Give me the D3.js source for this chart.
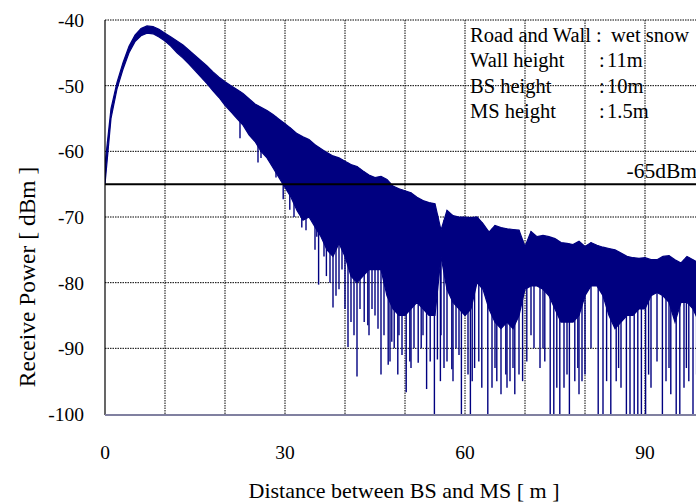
<!DOCTYPE html>
<html><head><meta charset="utf-8">
<script src="https://cdn.jsdelivr.net/npm/d3@7"></script>
<style>html,body{margin:0;padding:0;background:#fff;overflow:hidden}text{font-family:"Liberation Serif","Times New Roman",serif;fill:#000}</style>
</head><body><svg id="c" width="696" height="503"></svg>
<script>
// Distance grid [m]
const distance = [0,1,2,3,4,5,6,7,8,9,10,11,12,13,14,15,16,17,18,19,20,21,22,23,24,25,26,27,28,29,30,31,32,33,34,35,36,37,38,39,40,41,42,43,44,45,46,47,48,49,50,51,52,53,54,55,56,57,58,59,60,61,62,63,64,65,66,67,68,69,70,71,72,73,74,75,76,77,78,79,80,81,82,83,84,85,86,87,88,89,90,91,92,93,94,95,96,97,98,99,100];
// Upper envelope of received power [dBm]
const upperPower = [-62,-53.5,-49.5,-46.5,-44,-42.3,-41.3,-40.9,-41,-41.4,
-42,-42.6,-43.2,-43.8,-44.6,-45.4,-46.2,-47,-47.9,-48.7,
-49.4,-50,-50.6,-51.2,-52,-52.8,-53.3,-53.8,-54.4,-55.1,
-55.8,-56.5,-57.3,-57.8,-58.2,-59,-59.6,-60.2,-60.7,-61,
-61.5,-62,-62.3,-63,-63.6,-64,-63.8,-64.3,-65.3,-65.7,
-66,-66.3,-67,-67.5,-67.8,-68,-72,-69,-69.8,-70,
-70,-70.1,-70,-71,-72.3,-71.3,-71.6,-71.8,-71.9,-72,
-74.5,-72.2,-73,-72.8,-73,-73.3,-73.9,-74,-74.2,-73.7,
-74.5,-73.9,-74.3,-74.6,-74.8,-75,-75.5,-76,-76.2,-76.3,
-76.2,-76.5,-76.5,-76,-75.9,-76.5,-77,-76,-76.5,-77,-77];
// Lower edge of the dense fading band [dBm]
const lowerPower = [-65,-55,-50.5,-47.5,-45,-43.3,-42.4,-42,-42.1,-42.6,
-43.2,-44,-45,-45.8,-46.7,-47.7,-48.7,-49.7,-50.8,-51.8,
-53,-54,-55,-56,-57.5,-58.5,-60,-61,-62.5,-64,
-65.5,-67,-69,-70.5,-70,-71.5,-73,-75,-76,-74,
-76,-79,-80,-79,-78,-78,-78,-82,-84,-85,
-85,-84,-83,-84,-85,-85,-76,-81,-83,-84,
-85,-84,-80,-81,-84,-86,-87,-86,-87,-85,
-81,-80.5,-80.5,-81,-82,-84,-86,-86,-86,-85,
-82,-80.5,-80.5,-82,-85,-87,-86,-85,-85,-84,
-84,-82,-81.5,-82,-83,-86,-83,-83,-84,-86,-86];
// Deep fades: [distance m, minimum dBm]
const fades = [[22.5,-58],[25.5,-61.7],[26,-61],[28.5,-64],[29.7,-67.3],[30.8,-68.9],[31.5,-70],[32.8,-71.6],[33.5,-72],[35,-75],[35.3,-73],[35.6,-80.3],[36.5,-76],[36.9,-79],[37.5,-80],[38,-83.8],[38.5,-82],[39,-81],[39.5,-78],[40,-84],[40.5,-89.8],[41,-86],[41.5,-88],[42,-94.3],[42.5,-84],[43.2,-86],[43.8,-86.5],[44,-88],[44.5,-84],[45,-85],[45.5,-87],[46,-94],[46.5,-88],[47.2,-92.5],[47.5,-92],[47.8,-89],[48.2,-90],[48.8,-94],[49,-88],[49.5,-91],[50.2,-96.7],[50.8,-92],[51,-93],[51.5,-90],[52.2,-92.2],[52.7,-90],[53,-88],[53.6,-96.2],[54.2,-92],[54.9,-100],[55.4,-91.7],[55.9,-95],[56,-88],[56.5,-93],[57,-92],[57.8,-93.2],[58,-95],[58.5,-90],[59,-91],[59.4,-100],[60.5,-94],[60.9,-100],[61.2,-95],[61.6,-93],[62.3,-92],[62.8,-96],[63.8,-100],[64.5,-96],[65,-93],[65.3,-95],[66,-97],[66.8,-94],[67,-96],[67.5,-95],[68,-93],[68.3,-97],[69,-94],[69.6,-95],[70.3,-92],[71,-88],[71.5,-90],[72.5,-93],[73,-90],[73.3,-92],[74.2,-100],[74.8,-100],[75.3,-96],[75.8,-100],[76.5,-96],[77,-94],[77.4,-100],[78.3,-95],[78.8,-93],[79,-97],[79.5,-95],[80,-94],[81,-90],[82.2,-100],[83,-100],[83.6,-95],[84.3,-100],[85.2,-95],[85.6,-93],[86,-96],[86.9,-100],[87.5,-100],[88.2,-100],[88.8,-100],[89.4,-100],[90.1,-100],[90.6,-94],[91,-96],[92,-92],[92.9,-100],[93.5,-95],[94,-93],[94.3,-97],[95.2,-100],[95.8,-100],[96.5,-96],[96.9,-93],[97.3,-95],[98,-100],[98.6,-94],[99,-97],[99.5,-95]];
const xTickLabels = [0,30,60,90];
const yTickLabels = [-40,-50,-60,-70,-80,-90,-100];
const xGrid = [10,20,30,40,50,60,70,80,90];
const yGrid = [-50,-60,-70,-80,-90];
const threshold = -65;
const legendRows = [["Road and Wall",":","wet snow"],["Wall height",":","11m"],["BS height",":","10m"],["MS height",":","1.5m"]];

const svg = d3.select("#c");
svg.append("rect").attr("width",696).attr("height",503).attr("fill","#fff");
const x = d3.scaleLinear().domain([0,100]).range([105,705]);
const y = d3.scaleLinear().domain([-100,-40]).range([414,20]);

svg.append("defs").append("clipPath").attr("id","pc").append("rect")
  .attr("x",105).attr("y",20).attr("width",600).attr("height",394);

// grid
const g = svg.append("g");
g.selectAll(".vg").data(xGrid).join("line").attr("x1",d=>x(d)).attr("x2",d=>x(d)).attr("y1",20).attr("y2",414)
  .attr("stroke","#000").attr("stroke-width",1).attr("stroke-dasharray","1.5,1");
g.selectAll(".hg").data(yGrid).join("line").attr("x1",105).attr("x2",696).attr("y1",d=>y(d)).attr("y2",d=>y(d))
  .attr("stroke","#000").attr("stroke-width",1).attr("stroke-dasharray","1.5,1");
g.append("line").attr("x1",105).attr("x2",696).attr("y1",20).attr("y2",20).attr("stroke","#000").attr("stroke-dasharray","1.5,1");

// data
const band = distance.map((d,i)=>({d, hi:upperPower[i], lo:lowerPower[i]}));
const plot = svg.append("g").attr("clip-path","url(#pc)");
plot.append("path").datum(band)
  .attr("d", d3.area().x(p=>x(p.d)).y0(p=>y(p.lo)).y1(p=>y(p.hi)))
  .attr("fill","#000080").attr("stroke","#000080").attr("stroke-width",1.2);
const upAt = d3.scaleLinear().domain(distance).range(upperPower);
plot.selectAll(".fade").data(fades).join("line")
  .attr("x1",f=>x(f[0])).attr("x2",f=>x(f[0]))
  .attr("y1",f=>y(upAt(f[0]))).attr("y2",f=>y(f[1]))
  .attr("stroke","#000080").attr("stroke-width",1.4);

// threshold line
svg.append("line").attr("x1",105).attr("x2",696).attr("y1",y(threshold)).attr("y2",y(threshold))
  .attr("stroke","#000").attr("stroke-width",2);
svg.append("text").attr("x",697).attr("y",y(threshold)-6).attr("text-anchor","end")
  .attr("font-size",21.5).text(threshold+"dBm");

// borders
svg.append("line").attr("x1",105).attr("x2",105).attr("y1",20).attr("y2",415).attr("stroke","#000").attr("stroke-width",1.2);
svg.append("line").attr("x1",105).attr("x2",696).attr("y1",415).attr("y2",415).attr("stroke","#8080a0").attr("stroke-width",2);

// legend
const lg = svg.append("g");
legendRows.forEach((r,i)=>{
  const by = 42 + i*25.3;
  lg.append("text").attr("x",470).attr("y",by).attr("font-size",20.5).text(r[0]);
  lg.append("text").attr("x",i===0?596:599).attr("y",by).attr("font-size",20.5).text(r[1]);
  lg.append("text").attr("x",i===0?611:607).attr("y",by).attr("font-size",20.5).text(r[2]);
});

// axes labels
svg.selectAll(".yt").data(yTickLabels).join("text").attr("x",84).attr("y",d=>y(d)+7)
  .attr("text-anchor","end").attr("font-size",19.5).text(d=>d);
svg.selectAll(".xt").data(xTickLabels).join("text").attr("x",d=>x(d)).attr("y",459)
  .attr("text-anchor","middle").attr("font-size",19.5).text(d=>d);
svg.append("text").attr("x",404).attr("y",498).attr("text-anchor","middle").attr("font-size",22)
  .text("Distance between BS and MS [ m ]");
svg.append("text").attr("transform","translate(35,277) rotate(-90)").attr("text-anchor","middle").attr("font-size",23.5)
  .text("Receive Power [ dBm ]");
</script></body></html>
